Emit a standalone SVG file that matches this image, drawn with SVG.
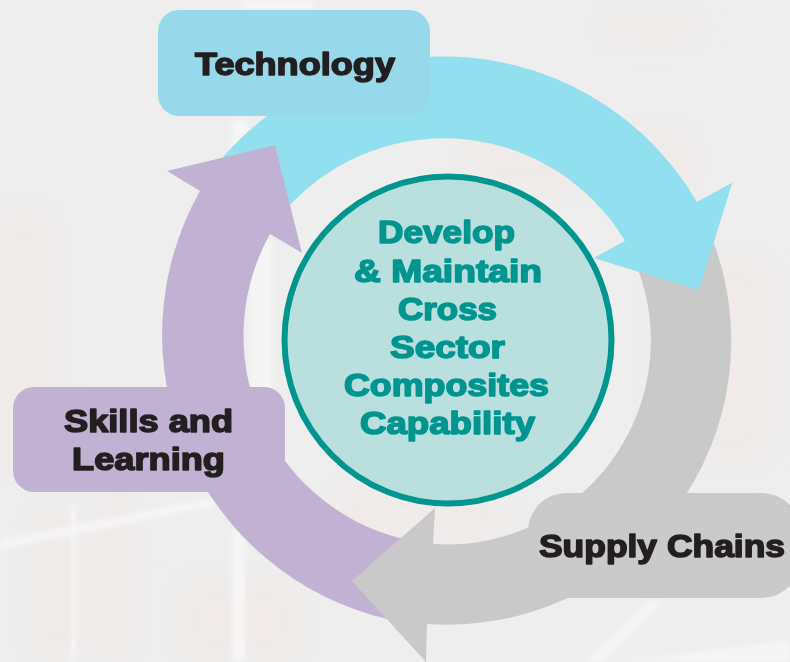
<svg xmlns="http://www.w3.org/2000/svg" width="790" height="662" viewBox="0 0 790 662">
<defs>
<filter id="b2" x="-50%" y="-50%" width="200%" height="200%"><feGaussianBlur stdDeviation="2"/></filter>
<filter id="b12" x="-50%" y="-50%" width="200%" height="200%"><feGaussianBlur stdDeviation="14"/></filter>
</defs>
<style>
.lbl{font-family:"Liberation Sans",Arial,sans-serif;font-weight:700;font-size:32px;text-anchor:start;stroke-width:1.6px;stroke-linejoin:round}
.blk{fill:#231f20;stroke:#231f20}
.teal{fill:#00958f;stroke:#00958f}
.warm{fill:#f6e6de;opacity:.3}
.lite{fill:#f8f8fa;opacity:.7}
</style>
<g id="background">
<rect width="790" height="662" fill="#eeeeee"/>
<g filter="url(#b12)">
<rect class="warm" x="0" y="210" width="50" height="260"/>
<rect class="warm" x="30" y="510" width="50" height="150"/>
<rect class="warm" x="100" y="490" width="30" height="172"/>
<rect class="warm" x="180" y="580" width="120" height="82"/>
<rect class="warm" x="650" y="260" width="120" height="200"/>
<rect class="warm" x="600" y="15" width="100" height="25"/>
<rect class="warm" x="330" y="490" width="180" height="50"/>
<rect class="warm" x="470" y="130" width="220" height="60"/>
</g>
<g filter="url(#b2)">
<rect class="lite" x="243" y="0" width="70" height="10"/>
<rect class="lite" x="232" y="120" width="16" height="36"/>
<rect class="lite" x="250" y="240" width="22" height="150"/>
<rect class="lite" x="232" y="530" width="14" height="132"/>
<path class="lite" d="M0,540 L215,497 L215,506 L0,550Z"/>
<rect class="lite" x="71" y="505" width="5" height="157" opacity=".4"/>
<path class="lite" d="M585,662 L650,600 L662,604 L605,662Z"/>
<path class="lite" d="M620,662 L790,640 L790,662Z" opacity=".4"/>
</g>
</g>
<g id="connectors">
<path id="arc-technology" fill="#92dfef" d="M223,157 A293,293 0 0 1 697,202 L732,183 L699,290 L594,258 L625,241 A211,211 0 0 0 290,205 Z"/>
<path id="arc-skills" fill="#c1b2d3" d="M387,619 A292,292 0 0 1 200,191 L167,171 L275,145 L302,253 L270,234 A209,209 0 0 0 433,544 Z"/>
<path id="arc-supply" fill="#c9c9c9" d="M712,238 A284,284 0 0 1 427,624 L426,662 L352,581 L435,508 L433,544 A204,204 0 0 0 625,241 Z"/>
<path id="arc-technology-head" fill="#92dfef" d="M697,202 L732,183 L699,290 L594,258 L625,241 Z"/>
</g>
<g id="node-centre">
<circle cx="448" cy="340" r="163.5" fill="#b9dfdf" stroke="#00958f" stroke-width="6"/>
<text class="lbl teal" x="378" y="243" textLength="137" lengthAdjust="spacingAndGlyphs">Develop</text>
<text class="lbl teal" x="354" y="282" textLength="188" lengthAdjust="spacingAndGlyphs">&amp; Maintain</text>
<text class="lbl teal" x="398" y="320" textLength="99" lengthAdjust="spacingAndGlyphs">Cross</text>
<text class="lbl teal" x="390" y="358" textLength="115" lengthAdjust="spacingAndGlyphs">Sector</text>
<text class="lbl teal" x="344" y="396" textLength="205" lengthAdjust="spacingAndGlyphs">Composites</text>
<text class="lbl teal" x="360" y="434" textLength="175" lengthAdjust="spacingAndGlyphs">Capability</text>
</g>
<g id="node-technology">
<rect x="158" y="10" width="272" height="106" rx="21" fill="#97d9ea"/>
<text class="lbl blk" x="195" y="75" textLength="200" lengthAdjust="spacingAndGlyphs">Technology</text>
</g>
<g id="node-skills">
<rect x="13" y="387" width="272" height="105" rx="21" fill="#c1b2d3"/>
<text class="lbl blk" x="64" y="432" textLength="169" lengthAdjust="spacingAndGlyphs">Skills and</text>
<text class="lbl blk" x="72" y="470" textLength="153" lengthAdjust="spacingAndGlyphs">Learning</text>
</g>
<g id="node-supply">
<rect x="528" y="493" width="272" height="105" rx="38" fill="#cbcacb"/>
<text class="lbl blk" x="539" y="557" textLength="246" lengthAdjust="spacingAndGlyphs">Supply Chains</text>
</g>
</svg>
